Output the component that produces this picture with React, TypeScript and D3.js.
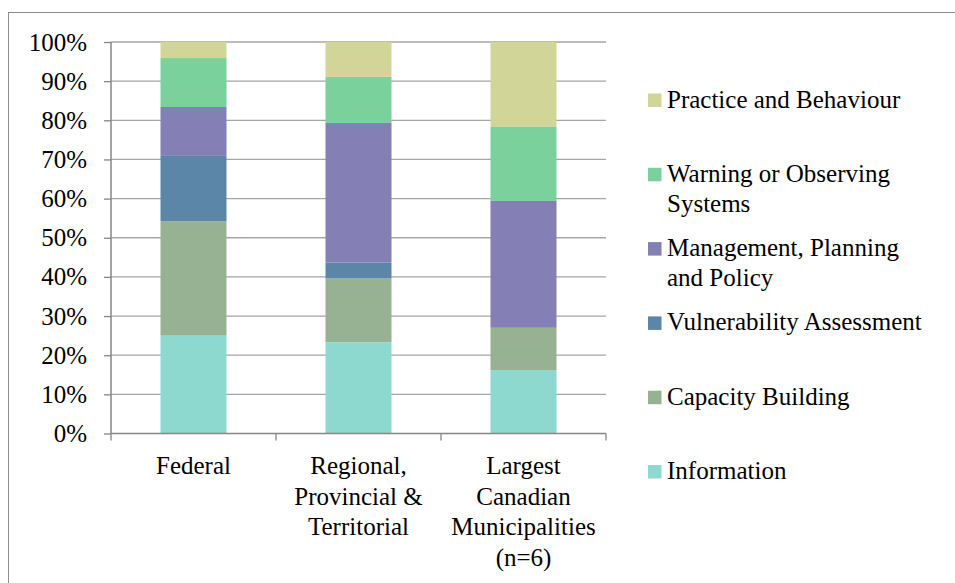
import * as d3 from 'd3';
import { useEffect, useRef } from 'react';

const categories = ['Federal', 'Regional, Provincial & Territorial', 'Largest Canadian Municipalities (n=6)'];
const categoryLines = [['Federal'], ['Regional,', 'Provincial &', 'Territorial'], ['Largest', 'Canadian', 'Municipalities', '(n=6)']];

// stacked bottom to top
const series = [
  'Information',
  'Capacity Building',
  'Vulnerability Assessment',
  'Management, Planning and Policy',
  'Warning or Observing Systems',
  'Practice and Behaviour'
];
const legendLines = [
  ['Information'],
  ['Capacity Building'],
  ['Vulnerability Assessment'],
  ['Management, Planning', 'and Policy'],
  ['Warning or Observing', 'Systems'],
  ['Practice and Behaviour']
];
const colors = ['#8ED9CF', '#97B293', '#5B86A8', '#847FB4', '#7AD19C', '#D1D597'];

const information = [25.0, 23.3, 16.2];
const capacityBuilding = [29.2, 16.3, 10.8];
const vulnerability = [16.7, 4.1, 0];
const management = [12.5, 35.6, 32.4];
const warning = [12.5, 11.8, 18.9];
const practice = [4.1, 8.9, 21.7];

const yTicks = [0, 10, 20, 30, 40, 50, 60, 70, 80, 90, 100];

const FONT = 'Liberation Serif, DejaVu Serif, serif';

export default function App() {
  const ref = useRef<SVGSVGElement>(null);

  useEffect(() => {
    const svg = d3.select(ref.current);
    svg.selectAll('*').remove();

    const width = 955;
    const height = 583;
    const left = 111;
    const right = 606;
    const top = 42;
    const bottom = 433.5;

    const rows = categories.map((c, i) => ({
      cat: c,
      'Information': information[i],
      'Capacity Building': capacityBuilding[i],
      'Vulnerability Assessment': vulnerability[i],
      'Management, Planning and Policy': management[i],
      'Warning or Observing Systems': warning[i],
      'Practice and Behaviour': practice[i]
    }));

    const stacked = d3.stack<any>().keys(series)(rows);

    const x = d3.scaleBand().domain(categories).range([left, right]).paddingInner(0.6).paddingOuter(0.3);
    const y = d3.scaleLinear().domain([0, 100]).range([bottom, top]);
    const color = d3.scaleOrdinal<string>().domain(series).range(colors);

    // outer frame
    svg
      .append('rect')
      .attr('x', 8.5)
      .attr('y', 12.5)
      .attr('width', width)
      .attr('height', height)
      .attr('fill', 'none')
      .attr('stroke', '#8c8c8c');

    // gridlines
    svg
      .append('g')
      .selectAll('line')
      .data(yTicks.filter((t) => t > 0))
      .join('line')
      .attr('x1', left)
      .attr('x2', right)
      .attr('y1', (d) => y(d))
      .attr('y2', (d) => y(d))
      .attr('stroke', '#a6a6a6')
      .attr('stroke-width', 1.3);

    // bars
    svg
      .append('g')
      .selectAll('g')
      .data(stacked)
      .join('g')
      .attr('fill', (d) => color(d.key))
      .selectAll('rect')
      .data((d) => d)
      .join('rect')
      .attr('x', (d) => x(d.data.cat)!)
      .attr('width', x.bandwidth())
      .attr('y', (d) => y(d[1]))
      .attr('height', (d) => y(d[0]) - y(d[1]));

    // y axis
    const yAxis = svg.append('g').attr('transform', `translate(${left},0)`);
    yAxis
      .call(d3.axisLeft(y).tickValues(yTicks).tickSize(7).tickFormat((d) => `${d}%`))
      .attr('font-family', FONT)
      .attr('font-size', 25)
      .call((g) => g.select('.domain').attr('stroke', '#868686').attr('stroke-width', 1.5).attr('d', `M0,${top}V${bottom}`))
      .call((g) => g.selectAll('.tick line').attr('stroke', '#868686').attr('stroke-width', 1.3))
      .call((g) => g.selectAll('.tick text').attr('x', -24).attr('dy', '0.32em').attr('fill', '#000'));

    // x axis line + ticks at band edges
    const edges = [left, left + x.step(), left + 2 * x.step(), right];
    const xAxis = svg.append('g').attr('font-family', FONT).attr('font-size', 25);
    xAxis
      .append('line')
      .attr('x1', left)
      .attr('x2', right)
      .attr('y1', bottom)
      .attr('y2', bottom)
      .attr('stroke', '#868686')
      .attr('stroke-width', 1.5);
    xAxis
      .selectAll('.xtick')
      .data(edges)
      .join('line')
      .attr('class', 'xtick')
      .attr('x1', (d) => d)
      .attr('x2', (d) => d)
      .attr('y1', bottom)
      .attr('y2', bottom + 7)
      .attr('stroke', '#868686')
      .attr('stroke-width', 1.3);

    // category labels
    xAxis
      .selectAll('.cat')
      .data(categories)
      .join('text')
      .attr('class', 'cat')
      .attr('text-anchor', 'middle')
      .attr('x', (d) => x(d)! + x.bandwidth() / 2)
      .attr('y', 474)
      .each(function (d, i) {
        d3.select(this)
          .selectAll('tspan')
          .data(categoryLines[i])
          .join('tspan')
          .attr('x', x(d)! + x.bandwidth() / 2)
          .attr('dy', (_, j) => (j === 0 ? 0 : 30.5))
          .text((t) => t);
      });

    // legend (top to bottom: reverse of stack)
    const legendOrder = series.map((_, i) => i).reverse();
    const ly = d3.scalePoint<number>().domain(legendOrder).range([93.5, 465]);
    const legend = svg
      .append('g')
      .attr('font-family', FONT)
      .attr('font-size', 25)
      .selectAll('g')
      .data(legendOrder)
      .join('g')
      .attr('transform', (d) => `translate(648,${ly(d)})`);
    legend
      .append('rect')
      .attr('width', 13.5)
      .attr('height', 13.5)
      .attr('fill', (d) => colors[d]);
    legend
      .append('text')
      .attr('x', 19)
      .attr('y', 14)
      .each(function (d) {
        d3.select(this)
          .selectAll('tspan')
          .data(legendLines[d])
          .join('tspan')
          .attr('x', 19)
          .attr('dy', (_, j) => (j === 0 ? 0 : 30))
          .text((t) => t);
      });
  }, []);

  return (
    <svg
      ref={ref}
      width={955}
      height={583}
      style={{ position: 'absolute', left: 0, top: 0, background: '#fff' }}
    />
  );
}
